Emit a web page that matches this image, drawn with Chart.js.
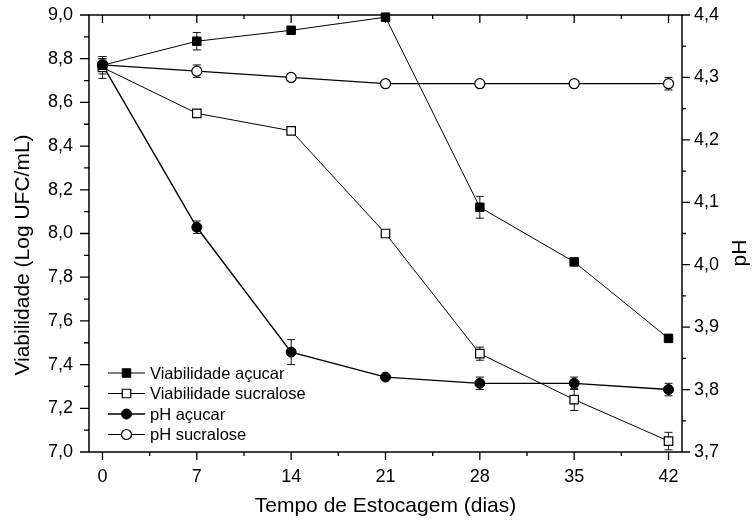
<!DOCTYPE html>
<html>
<head>
<meta charset="utf-8">
<script src="https://cdn.jsdelivr.net/npm/chart.js@4"></script>
<style>
  html, body { margin: 0; padding: 0; background: #fff; }
  #wrap { width: 752px; height: 526px; }
</style>
</head>
<body>
<div id="wrap"><canvas id="grafico"></canvas></div>
<script>
var dias = [0, 7, 14, 21, 28, 35, 42];

var viabAcucar = [8.77, 8.88, 8.93, 8.99, 8.12, 7.87, 7.52];
var viabAcucarErr = [0.04, 0.04, 0.01, 0, 0.05, 0, 0.01];

var viabSucralose = [8.76, 8.55, 8.47, 8.00, 7.45, 7.24, 7.05];
var viabSucraloseErr = [0.05, 0.01, 0.01, 0, 0.03, 0.05, 0.04];

var phAcucar = [4.32, 4.06, 3.86, 3.82, 3.81, 3.81, 3.80];
var phAcucarErr = [0.01, 0.01, 0.02, 0, 0.01, 0.01, 0.01];

var phSucralose = [4.32, 4.31, 4.30, 4.29, 4.29, 4.29, 4.29];
var phSucraloseErr = [0.01, 0.01, 0, 0, 0, 0, 0.01];

var ticksX = [0, 7, 14, 21, 28, 35, 42];
var ticksViab = [7.0, 7.2, 7.4, 7.6, 7.8, 8.0, 8.2, 8.4, 8.6, 8.8, 9.0];
var ticksPh = [3.7, 3.8, 3.9, 4.0, 4.1, 4.2, 4.3, 4.4];

var fonte = "'Liberation Sans', Arial, sans-serif";
Chart.defaults.font.family = fonte;
Chart.defaults.color = '#000';

function pontos(valori, errori)
{
    var out = [];
    for (var i = 0; i < dias.length; i++) {
        out.push({ x: dias[i], y: valori[i], err: errori[i] });
    }
    return out;
}

function virgola(v)
{
    return Number(v).toFixed(1).replace('.', ',');
}

function senzaMargini(s)
{
    s.paddingTop = 0;
    s.paddingBottom = 0;
    s.paddingLeft = 0;
    s.paddingRight = 0;
}

// barre di errore
var pluginErrori = {
    id: 'errori',
    beforeDatasetsDraw: function(chart) {
        var ctx = chart.ctx;
        var sx = chart.scales.x;
        ctx.save();
        ctx.strokeStyle = '#111';
        ctx.lineWidth = 1;
        chart.data.datasets.forEach(function(ds) {
            var sy = chart.scales[ds.yAxisID];
            ds.data.forEach(function(p) {
                if (!p.err) return;
                var x = sx.getPixelForValue(p.x);
                var y1 = sy.getPixelForValue(p.y + p.err);
                var y2 = sy.getPixelForValue(p.y - p.err);
                ctx.beginPath();
                ctx.moveTo(x, y1); ctx.lineTo(x, y2);
                ctx.moveTo(x - 4, y1); ctx.lineTo(x + 4, y1);
                ctx.moveTo(x - 4, y2); ctx.lineTo(x + 4, y2);
                ctx.stroke();
            });
        });
        ctx.restore();
    }
};

// cornice, tacche, titoli e legenda
var pluginCornice = {
    id: 'cornice',
    afterDraw: function(chart) {
        var ctx = chart.ctx;
        var a = chart.chartArea;
        var sx = chart.scales.x, sy = chart.scales.y, sy1 = chart.scales.y1;
        ctx.save();
        ctx.strokeStyle = '#000';
        ctx.lineWidth = 1.5;
        ctx.strokeRect(a.left, a.top, a.right - a.left, a.bottom - a.top);

        ctx.lineWidth = 1.3;
        ctx.beginPath();
        var i, px;
        for (i = 0; i < ticksX.length; i++) {
            px = sx.getPixelForValue(ticksX[i]);
            ctx.moveTo(px, a.bottom); ctx.lineTo(px, a.bottom + 8);
            ctx.moveTo(px, a.top); ctx.lineTo(px, a.top + 8);
            if (i < ticksX.length - 1) {
                px = sx.getPixelForValue(ticksX[i] + 3.5);
                ctx.moveTo(px, a.bottom); ctx.lineTo(px, a.bottom + 4);
                ctx.moveTo(px, a.top); ctx.lineTo(px, a.top + 4);
            }
        }
        for (i = 0; i < ticksViab.length; i++) {
            px = sy.getPixelForValue(ticksViab[i]);
            ctx.moveTo(a.left, px); ctx.lineTo(a.left - 9, px);
            if (i < ticksViab.length - 1) {
                px = sy.getPixelForValue(ticksViab[i] + 0.1);
                ctx.moveTo(a.left, px); ctx.lineTo(a.left - 5, px);
            }
        }
        for (i = 0; i < ticksPh.length; i++) {
            px = sy1.getPixelForValue(ticksPh[i]);
            ctx.moveTo(a.right, px); ctx.lineTo(a.right + 8, px);
            if (i < ticksPh.length - 1) {
                px = sy1.getPixelForValue(ticksPh[i] + 0.05);
                ctx.moveTo(a.right, px); ctx.lineTo(a.right + 4, px);
            }
        }
        ctx.stroke();

        // titoli degli assi
        ctx.fillStyle = '#000';
        ctx.font = '21px ' + fonte;
        ctx.textAlign = 'center';
        ctx.textBaseline = 'alphabetic';
        ctx.fillText('Tempo de Estocagem (dias)', (a.left + a.right) / 2, 512);

        ctx.save();
        ctx.translate(29, 255);
        ctx.rotate(-Math.PI / 2);
        ctx.fillText('Viabilidade (Log UFC/mL)', 0, 0);
        ctx.restore();

        ctx.save();
        ctx.translate(746, 253);
        ctx.rotate(-Math.PI / 2);
        ctx.fillText('pH', 0, 0);
        ctx.restore();

        // legenda
        ctx.font = '16.5px ' + fonte;
        ctx.textAlign = 'left';
        ctx.textBaseline = 'middle';
        var righe = [373, 393.5, 414, 434.5];
        chart.data.datasets.forEach(function(ds, k) {
            var y = righe[k];
            ctx.strokeStyle = '#000';
            ctx.lineWidth = ds.borderWidth;
            ctx.beginPath();
            ctx.moveTo(108, y); ctx.lineTo(145, y);
            ctx.stroke();
            ctx.fillStyle = ds.pointBackgroundColor;
            ctx.strokeStyle = '#000';
            ctx.lineWidth = ds.pointBorderWidth;
            Chart.helpers.drawPoint(ctx, {
                pointStyle: ds.pointStyle,
                radius: ds.pointRadius,
                rotation: 0,
                borderWidth: ds.pointBorderWidth
            }, 126.5, y);
            ctx.fillStyle = '#000';
            ctx.fillText(ds.label, 150, y + 1);
        });
        ctx.restore();
    }
};

var ctx = document.getElementById('grafico');

var chart = new Chart(ctx, {
    type: 'line',
    data: {
        datasets: [{
            label: 'Viabilidade açucar',
            data: pontos(viabAcucar, viabAcucarErr),
            yAxisID: 'y',
            borderColor: '#000',
            borderWidth: 1,
            pointStyle: 'rect',
            pointRadius: 6,
            pointBorderWidth: 1,
            pointBackgroundColor: '#000',
            pointBorderColor: '#000'
        }, {
            label: 'Viabilidade sucralose',
            data: pontos(viabSucralose, viabSucraloseErr),
            yAxisID: 'y',
            borderColor: '#000',
            borderWidth: 1,
            pointStyle: 'rect',
            pointRadius: 6,
            pointBorderWidth: 1.2,
            pointBackgroundColor: '#fff',
            pointBorderColor: '#000'
        }, {
            label: 'pH açucar',
            data: pontos(phAcucar, phAcucarErr),
            yAxisID: 'y1',
            borderColor: '#000',
            borderWidth: 1.4,
            pointStyle: 'circle',
            pointRadius: 5,
            pointBorderWidth: 1,
            pointBackgroundColor: '#000',
            pointBorderColor: '#000'
        }, {
            label: 'pH sucralose',
            data: pontos(phSucralose, phSucraloseErr),
            yAxisID: 'y1',
            borderColor: '#000',
            borderWidth: 1.2,
            pointStyle: 'circle',
            pointRadius: 5,
            pointBorderWidth: 1.2,
            pointBackgroundColor: '#fff',
            pointBorderColor: '#000'
        }]
    },
    options: {
        responsive: true,
        maintainAspectRatio: false,
        animation: false,
        layout: { padding: { top: 15, left: 0, right: 0, bottom: 0 } },
        elements: { line: { tension: 0 } },
        datasets: { line: { clip: false } },
        plugins: {
            legend: { display: false },
            tooltip: { enabled: false }
        },
        scales: {
            x: {
                type: 'linear',
                min: -1,
                max: 43,
                afterBuildTicks: function(s) { s.ticks = ticksX.map(function(v) { return { value: v }; }); },
                afterFit: function(s) { s.height = 74; senzaMargini(s); },
                grid: { display: false, drawTicks: false },
                border: { display: false },
                ticks: { padding: 14, font: { size: 18 }, callback: function(v) { return v; } }
            },
            y: {
                position: 'left',
                min: 7,
                max: 9,
                afterBuildTicks: function(s) { s.ticks = ticksViab.map(function(v) { return { value: v }; }); },
                afterFit: function(s) { s.width = 89; senzaMargini(s); },
                grid: { display: false, drawTicks: false },
                border: { display: false },
                ticks: { padding: 16, font: { size: 18 }, callback: virgola }
            },
            y1: {
                position: 'right',
                min: 3.7,
                max: 4.4,
                afterBuildTicks: function(s) { s.ticks = ticksPh.map(function(v) { return { value: v }; }); },
                afterFit: function(s) { s.width = 70; senzaMargini(s); },
                grid: { display: false, drawTicks: false },
                border: { display: false },
                ticks: { padding: 12, font: { size: 18 }, callback: virgola }
            }
        }
    },
    plugins: [pluginErrori, pluginCornice]
});
</script>
</body>
</html>
